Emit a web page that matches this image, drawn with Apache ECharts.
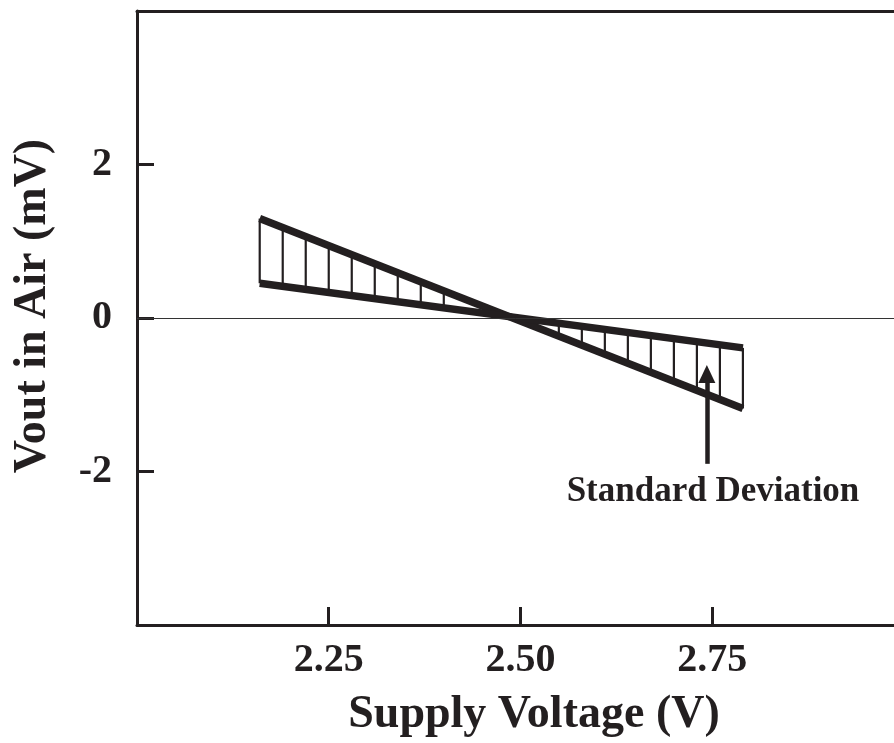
<!DOCTYPE html>
<html><head><meta charset="utf-8">
<script src="https://cdn.jsdelivr.net/npm/echarts@6/dist/echarts.min.js"></script>
<style>html,body{margin:0;padding:0;background:#fff}#c{width:894px;height:743px}</style>
</head><body><div id="c"></div>
<script>
// ---- data ----
const xTicks = [2.25, 2.50, 2.75];
const yTicks = [-2, 0, 2];
const xRange = [2.0, 2.987];   // the plot box is cut off at the right edge of the picture
const yRange = [-4, 4];
const steepLine = [[2.16, 1.295], [2.79, -1.179]];
const shallowLine = [[2.16, 0.453], [2.79, -0.389]];
const hatchX      = [2.16, 2.19, 2.22, 2.25, 2.28, 2.31, 2.34, 2.37, 2.40, 2.55, 2.58, 2.61, 2.64, 2.67, 2.70, 2.73, 2.76, 2.79];
const hatchTop    = [1.295, 1.177, 1.059, 0.942, 0.824, 0.706, 0.588, 0.470, 0.353, -0.068, -0.109, -0.149, -0.189, -0.229, -0.269, -0.309, -0.349, -0.389];
const hatchBottom = [0.453, 0.413, 0.373, 0.333, 0.293, 0.252, 0.212, 0.172, 0.132, -0.237, -0.354, -0.472, -0.590, -0.708, -0.826, -0.944, -1.061, -1.179];
const arrowFrom = [2.743, -1.90];
const arrowTo = [2.743, -0.73];
const noteAt = [2.751, -2.26];
const noteText = 'Standard Deviation';

const INK = '#231f20';
const FONT = "'Liberation Serif', 'Times New Roman', serif";

const chart = echarts.init(document.getElementById('c'), null, {renderer: 'canvas'});
chart.setOption({
  animation: false,
  backgroundColor: '#fff',
  grid: {left: 137, top: 11, right: 0, bottom: 114, show: false},
  xAxis: [{
    type: 'value', min: xRange[0], max: xRange[1], position: 'bottom',
    name: 'Supply Voltage (V)', nameLocation: 'middle', nameGap: 67,
    nameTextStyle: {fontFamily: FONT, fontWeight: 'bold', fontSize: 46, color: INK, padding: [0, 0, 0, 37]},
    axisLine: {show: true, onZero: false, lineStyle: {color: INK, width: 3}},
    axisTick: {show: true, inside: true, length: 18, customValues: xTicks, lineStyle: {color: INK, width: 3}},
    axisLabel: {
      margin: 16, fontFamily: FONT, fontWeight: 'bold', fontSize: 40, color: INK,
      customValues: xTicks, formatter: v => v.toFixed(2)
    },
    splitLine: {show: false}
  }, {
    type: 'value', min: xRange[0], max: xRange[1], position: 'top',
    axisLine: {show: true, onZero: false, lineStyle: {color: INK, width: 3}},
    axisTick: {show: false}, axisLabel: {show: false}, splitLine: {show: false}
  }],
  yAxis: {
    type: 'value', min: yRange[0], max: yRange[1],
    name: 'Vout in Air (mV)', nameLocation: 'middle', nameGap: 81, nameRotate: 90,
    nameTextStyle: {fontFamily: FONT, fontWeight: 'bold', fontSize: 46, color: INK, padding: [0, 0, 0, 24]},
    axisLine: {show: true, onZero: false, lineStyle: {color: INK, width: 3}},
    axisTick: {show: true, inside: true, length: 17, customValues: yTicks, lineStyle: {color: INK, width: 3}},
    axisLabel: {
      margin: 25, fontFamily: FONT, fontWeight: 'bold', fontSize: 40, color: INK,
      customValues: yTicks, formatter: v => String(v)
    },
    splitLine: {show: false}
  },
  series: [
    {
      name: 'hatch', type: 'custom', z: 2, silent: true,
      data: hatchX.map((x, i) => [x, hatchTop[i], hatchBottom[i]]),
      encode: {x: 0, y: [1, 2]},
      renderItem: (params, api) => {
        const a = api.coord([api.value(0), api.value(1)]);
        const b = api.coord([api.value(0), api.value(2)]);
        return {type: 'line', shape: {x1: a[0], y1: a[1], x2: b[0], y2: b[1]}, style: {stroke: INK, lineWidth: 2.2}};
      }
    },
    {
      name: 'zero', type: 'line', data: [], z: 1, silent: true,
      markLine: {silent: true, symbol: 'none', label: {show: false},
        lineStyle: {color: '#333', width: 1, type: 'solid'}, data: [{yAxis: 0}]}
    },
    {
      name: 'steep', type: 'line', data: steepLine, showSymbol: false, z: 3, silent: true,
      lineStyle: {color: INK, width: 7.5, cap: 'butt'}
    },
    {
      name: 'shallow', type: 'line', data: shallowLine, showSymbol: false, z: 3, silent: true,
      lineStyle: {color: INK, width: 7.5, cap: 'butt'}
    },
    {
      name: 'note', type: 'scatter', data: [], z: 4, silent: true,
      markLine: {
        silent: true, label: {show: false},
        symbol: ['none', 'triangle'], symbolSize: [17, 18],
        lineStyle: {color: INK, width: 4.5, type: 'solid'},
        data: [[{coord: arrowFrom}, {coord: arrowTo}]]
      },
      markPoint: {
        silent: true, symbol: 'circle', symbolSize: 0,
        label: {show: true, position: 'inside', formatter: noteText, fontFamily: FONT, fontWeight: 'bold', fontSize: 35, color: INK},
        data: [{coord: noteAt}]
      }
    }
  ]
});
</script></body></html>
